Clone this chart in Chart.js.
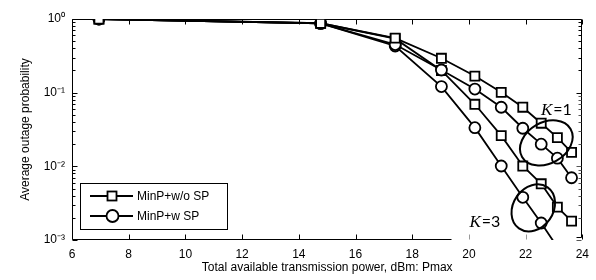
<!DOCTYPE html>
<html><head><meta charset="utf-8">
<script src="https://cdn.jsdelivr.net/npm/chart.js@4.4.1/dist/chart.umd.min.js"></script>
<style>html,body{margin:0;padding:0;background:#fff;}#wrap{width:596px;height:280px;}</style>
</head><body><div id="wrap"><canvas id="c" width="596" height="280"></canvas></div>
<script>
// ---- data ----
const powerDbm     = [6.95, 14.77, 17.40, 19.03, 20.21, 21.14, 21.90, 22.55, 23.12, 23.62];
const k1WithoutSP  = [1.0, 0.875, 0.55, 0.293, 0.168, 0.101, 0.0634, 0.0385, 0.0245, 0.0155];
const k1WithSP     = [1.0, 0.870, 0.45, 0.203, 0.112, 0.0634, 0.0329, 0.0200, 0.0129, 0.0070];
const k3WithoutSP  = [1.0, 0.875, 0.54, 0.200, 0.0696, 0.0261, 0.0101, 0.0058, 0.0028, 0.0018];
const k3WithSP     = [1.0, 0.870, 0.43, 0.121, 0.0335, 0.0101, 0.0038, 0.0017, 0.0008, 0.0004];
const xTickValues  = [6, 8, 10, 12, 14, 16, 18, 20, 22, 24];
const yDecades     = [0.001, 0.01, 0.1, 1];
const legendLabels = ['MinP+w/o SP', 'MinP+w SP'];
const kLabels      = ['=1', '=3'];

const yMin = 0.001, yMax = 1;
const pts = arr => arr.map((v, i) => ({x: powerDbm[i], y: v}));
const SUP = {'0':'\u2070','1':'\u00b9','2':'\u00b2','3':'\u00b3','-':'\u207b'};
const sup = n => String(n).split('').map(c => SUP[c]).join('');

Chart.defaults.font.family = '"Liberation Sans", Arial, sans-serif';
Chart.defaults.font.size = 12;
Chart.defaults.color = '#000';

const SQ_R = 6.4, CI_R = 5.5, LW = 1.8;
function ds(data, square) {
  return {
    data: pts(data),
    borderColor: '#000', borderWidth: LW,
    pointStyle: square ? 'rect' : 'circle',
    pointRadius: c => (c.raw && c.raw.y < yMin) ? 0 : (square ? SQ_R : CI_R),
    pointHoverRadius: c => (c.raw && c.raw.y < yMin) ? 0 : (square ? SQ_R : CI_R),
    pointBackgroundColor: '#fff', pointBorderColor: '#000', pointBorderWidth: LW,
    tension: 0, fill: false
  };
}

const bottomLineEnd = 19.38; // reference's bottom border stops here (covered area)

const framePlugin = {
  id: 'frame',
  beforeDatasetsDraw(chart) {
    const {ctx, chartArea: a, scales: {x, y}} = chart;
    const L = Math.round(a.left) + 0.5, R = Math.round(a.right) - 0.5;
    const T = Math.round(a.top) + 0.5, B = Math.round(a.bottom) - 0.5;
    ctx.save();
    ctx.strokeStyle = '#000'; ctx.lineWidth = 1;
    ctx.beginPath();
    ctx.moveTo(L, B); ctx.lineTo(L, T); ctx.lineTo(R, T); ctx.lineTo(R, B - 2);
    ctx.moveTo(L, B); ctx.lineTo(Math.round(x.getPixelForValue(bottomLineEnd)) + 0.5, B);
    ctx.moveTo(R - 5, B - 2); ctx.lineTo(R, B - 2);
    ctx.stroke();
    // x ticks (inward)
    xTickValues.forEach(v => {
      const px = Math.round(x.getPixelForValue(v)) + 0.5;
      ctx.strokeStyle = v > bottomLineEnd && v < 24 ? '#999' : '#000';
      ctx.beginPath(); ctx.moveTo(px, B); ctx.lineTo(px, B - 5); ctx.stroke();
      ctx.strokeStyle = '#000';
      ctx.beginPath(); ctx.moveTo(px, T); ctx.lineTo(px, T + 5); ctx.stroke();
    });
    // y ticks major + minor (inward, both sides)
    yDecades.forEach(d => {
      for (let m = 1; m <= 9; m++) {
        const v = d * m;
        if (v > yMax * 1.0001) break;
        const py = Math.round(y.getPixelForValue(v)) + 0.5;
        const len = m === 1 ? 5 : 3;
        ctx.strokeStyle = '#000';
        ctx.beginPath(); ctx.moveTo(L, py); ctx.lineTo(L + len, py); ctx.stroke();
        ctx.strokeStyle = v < 0.1 ? '#555' : '#000';
        ctx.beginPath(); ctx.moveTo(R, py); ctx.lineTo(R - len, py); ctx.stroke();
      }
    });
    ctx.restore();
  },
  afterDatasetsDraw(chart) {
    const {ctx, scales: {x, y}} = chart;
    ctx.save();
    ctx.strokeStyle = '#000'; ctx.lineWidth = 2;
    // ellipses around groups (data-space centres)
    const ells = [
      {cx: 22.73, cy: 0.0208, a: 28, b: 20.5, r: -30},
      {cx: 22.27, cy: 0.00273, a: 25, b: 20, r: -55}
    ];
    ells.forEach(e => {
      ctx.beginPath();
      ctx.ellipse(x.getPixelForValue(e.cx), y.getPixelForValue(e.cy), e.a, e.b, e.r * Math.PI / 180, 0, Math.PI * 2);
      ctx.stroke();
    });
    // K labels
    const ks = [{x: 22.54, y: 0.0498, t: kLabels[0]}, {x: 20.02, y: 0.00151, t: kLabels[1]}];
    ks.forEach(k => {
      const px = x.getPixelForValue(k.x), py = y.getPixelForValue(k.y);
      ctx.fillStyle = '#000'; ctx.textBaseline = 'alphabetic'; ctx.textAlign = 'left';
      ctx.font = 'italic 17px "Liberation Serif", serif';
      ctx.fillText('K', px, py);
      const w = ctx.measureText('K').width;
      ctx.font = '16px Lato, "Liberation Sans", sans-serif';
      ctx.fillText(k.t, px + w + 1, py);
    });
    ctx.restore();
  },
  afterDraw(chart) {
    const {ctx} = chart;
    ctx.save();
    const bx = 80.5, by = 183.5, bw = 147, bh = 46;
    ctx.fillStyle = '#fff'; ctx.fillRect(bx, by, bw, bh);
    ctx.strokeStyle = '#000'; ctx.lineWidth = 1; ctx.strokeRect(bx, by, bw, bh);
    const rows = [196, 216];
    rows.forEach((ry, i) => {
      ctx.lineWidth = LW; ctx.strokeStyle = '#000';
      ctx.beginPath(); ctx.moveTo(90, ry); ctx.lineTo(133, ry); ctx.stroke();
      ctx.fillStyle = '#fff';
      if (i === 0) {
        const s = 9;
        ctx.fillRect(112 - s/2, ry - s/2, s, s); ctx.strokeRect(112 - s/2, ry - s/2, s, s);
      } else {
        ctx.beginPath(); ctx.arc(112.5, ry, 6, 0, Math.PI*2); ctx.fill(); ctx.stroke();
      }
      ctx.fillStyle = '#000'; ctx.font = '12px "Liberation Sans", Arial, sans-serif';
      ctx.textBaseline = 'middle'; ctx.textAlign = 'left';
      ctx.fillText(legendLabels[i], 137, ry + 0.5);
    });
    ctx.restore();
  }
};

new Chart(document.getElementById('c'), {
  type: 'line',
  data: {
    datasets: [ds(k1WithoutSP, true), ds(k1WithSP, false), ds(k3WithoutSP, true), ds(k3WithSP, false)]
  },
  options: {
    responsive: false, animation: false, devicePixelRatio: 1,
    layout: {padding: {top: 19, right: 13, left: 0, bottom: 0}},
    plugins: {legend: {display: false}, tooltip: {enabled: false}},
    scales: {
      x: {
        type: 'linear', min: 6, max: 24,
        grid: {display: false, drawTicks: false}, border: {display: false},
        ticks: {stepSize: 2, padding: 7, maxRotation: 0, autoSkip: false, font: {size: 12}},
        title: {display: true, text: 'Total available transmission power, dBm: Pmax', font: {size: 12}, padding: {top: 0, bottom: 5}},
        afterFit: s => { s.height = 40; }
      },
      y: {
        type: 'logarithmic', min: yMin, max: yMax,
        grid: {display: false, drawTicks: false}, border: {display: false},
        ticks: {
          padding: 7, autoSkip: false, font: {size: 12},
          callback: v => {
            const e = Math.log10(v);
            return Math.abs(e - Math.round(e)) < 1e-6 ? '10' + sup(Math.round(e)) : '';
          }
        },
        title: {display: true, text: 'Average outage probability', font: {size: 12}, padding: {top: 18, bottom: 0}},
        afterFit: s => { s.width = 72; }
      }
    }
  },
  plugins: [framePlugin]
});
</script></body></html>
